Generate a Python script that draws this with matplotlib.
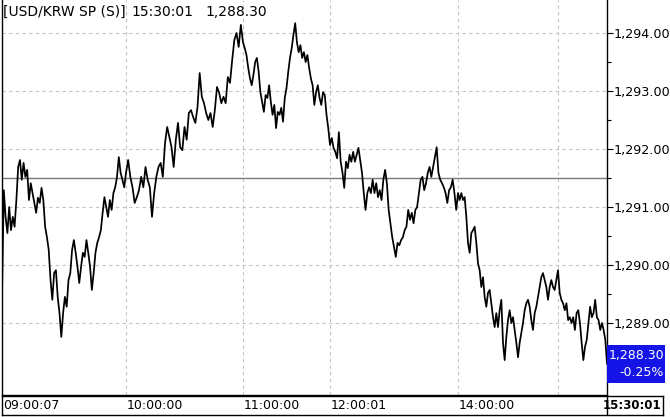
import numpy as np
import matplotlib
matplotlib.use("Agg")
import matplotlib.pyplot as plt
from matplotlib.patches import Rectangle
from matplotlib.transforms import blended_transform_factory

W, H, DPI = 670, 417, 100

# USD/KRW spot ticks
p_0900 = [1289.45, 1291.29, 1290.83, 1290.55, 1291.00, 1290.60, 1290.83, 1290.66, 1291.12, 1291.69,
          1291.81, 1291.47, 1291.76, 1291.52, 1291.64, 1291.12, 1291.41, 1291.24, 1291.07, 1290.90,
          1291.16, 1291.07, 1291.33, 1291.12, 1290.66, 1290.48, 1290.26, 1289.74, 1289.40, 1289.86,
          1289.91, 1289.45, 1289.17, 1288.76, 1289.17, 1289.45, 1289.28, 1289.74, 1289.86, 1290.26,
          1290.43, 1290.21, 1289.97, 1289.69, 1289.97, 1290.21, 1290.14, 1290.43, 1290.21, 1289.97,
          1289.57, 1289.86, 1290.21, 1290.38, 1290.48, 1290.60, 1290.90, 1291.17, 1291.00, 1290.83,
          1291.12, 1290.95, 1291.24, 1291.34, 1291.52, 1291.86, 1291.59, 1291.47, 1291.34]
p_1000 = [1291.59, 1291.81, 1291.52, 1291.34, 1291.07, 1291.17, 1291.29, 1291.52, 1291.34, 1291.69,
          1291.47, 1291.34, 1290.83, 1291.24, 1291.52, 1291.69, 1291.76, 1291.52, 1292.10, 1292.38,
          1292.21, 1292.03, 1291.69, 1292.16, 1292.45, 1292.03, 1291.98, 1292.38, 1292.16, 1292.62,
          1292.67, 1292.55, 1292.45, 1292.72, 1293.31, 1292.90, 1292.79, 1292.62, 1292.50, 1292.62,
          1292.38, 1292.67, 1293.07, 1292.97, 1292.79, 1292.90, 1292.79, 1293.24, 1293.14, 1293.53,
          1293.88, 1294.00, 1293.76, 1294.14]
p_1100 = [1293.84, 1293.74, 1293.62, 1293.40, 1293.22, 1293.10, 1293.28, 1293.50, 1293.57, 1293.33,
          1292.98, 1292.81, 1292.64, 1292.93, 1292.88, 1293.10, 1292.81, 1292.59, 1292.76, 1292.36,
          1292.64, 1292.59, 1292.71, 1292.47, 1292.88, 1293.05, 1293.33, 1293.57, 1293.74, 1293.97,
          1294.17, 1293.84, 1293.67, 1293.79, 1293.57, 1293.67, 1293.50, 1293.62, 1293.40, 1293.22,
          1293.10, 1292.76, 1292.98, 1293.10, 1292.88, 1292.76, 1292.98, 1292.93, 1292.59, 1292.36]
p_1200 = [1292.07, 1292.19, 1292.02, 1291.95, 1291.84, 1292.29, 1291.78, 1291.60, 1291.33, 1291.78,
          1291.67, 1291.90, 1291.78, 1291.95, 1291.78, 1291.90, 1292.02, 1291.81, 1291.59, 1291.24,
          1290.95, 1291.24, 1291.34, 1291.24, 1291.47, 1291.24, 1291.41, 1291.17, 1291.29, 1291.12,
          1291.47, 1291.64, 1291.41, 1290.95, 1290.72, 1290.48, 1290.31, 1290.14, 1290.38, 1290.34,
          1290.43, 1290.48, 1290.60, 1290.66, 1290.95, 1290.78, 1290.90, 1290.72, 1290.95, 1291.00,
          1291.24, 1291.47, 1291.52, 1291.29, 1291.41, 1291.59, 1291.69, 1291.52, 1291.69, 1291.86,
          1292.03, 1291.59, 1291.47, 1291.41, 1291.34, 1291.24, 1291.07, 1291.29, 1291.34, 1291.47,
          1291.24, 1290.95]
p_1400 = [1291.24, 1291.12, 1291.24, 1291.12, 1291.17, 1290.83, 1290.38, 1290.21, 1290.55, 1290.60,
          1290.66, 1290.38, 1290.03, 1289.91, 1289.62, 1289.79, 1289.45, 1289.28, 1289.52, 1289.57,
          1289.34, 1289.10, 1288.93, 1289.17, 1288.93, 1289.22, 1289.40, 1288.66, 1288.36, 1288.76,
          1289.05, 1289.22, 1289.00, 1289.10, 1288.88, 1288.66, 1288.41, 1288.66, 1288.83, 1289.00,
          1289.22, 1289.34, 1289.40, 1289.28, 1289.05, 1288.88, 1289.17, 1289.28, 1289.45, 1289.62,
          1289.79, 1289.86, 1289.74, 1289.62, 1289.40, 1289.62, 1289.74, 1289.62, 1289.57, 1289.74]
p_1500 = [1289.91, 1289.52, 1289.40, 1289.34, 1289.22, 1289.34, 1289.05, 1289.10, 1289.00, 1289.10,
          1288.88, 1289.17, 1289.22, 1289.00, 1288.66, 1288.36, 1288.59, 1288.71, 1289.00, 1289.28,
          1289.10, 1289.17, 1289.40, 1289.10, 1289.05, 1288.88, 1289.00, 1288.88, 1288.71, 1288.30]

time_labels = ["09:00:07", "10:00:00", "11:00:00", "12:00:01", "14:00:00", ""]
last_time = "15:30:01"
title = "[USD/KRW SP (S)]"
prev_close = 1291.50
last_price = 1288.30
change_pct = -0.25
y_ticks = [1289, 1290, 1291, 1292, 1293, 1294]

# where each block starts along the x axis (pixel-like slot units)
block_edges = [0, 124, 241, 328, 456, 556, 605]

blocks = [p_0900, p_1000, p_1100, p_1200, p_1400, p_1500]
xs = []
for i, b in enumerate(blocks):
    last = i == len(blocks) - 1
    xs.append(np.linspace(block_edges[i], block_edges[i + 1], len(b), endpoint=last))
x = np.concatenate(xs)
y = np.concatenate(blocks)

fig = plt.figure(figsize=(W / DPI, H / DPI), dpi=DPI)
plt.rcParams['font.family'] = ['DejaVu Sans']

# main price panel
ax = fig.add_axes([2 / W, (H - 395) / H, 605 / W, 395 / H])
ax.set_xlim(0, 605)
ax.set_ylim(1294 - 362 / 58, 1294 + 33 / 58)

grid_kw = dict(color='#c4c4c4', lw=0.8, dashes=(3, 3))
for v in y_ticks:
    ax.axhline(v, zorder=1, **grid_kw)
for e in block_edges[1:-1]:
    ax.axvline(e, zorder=1, **grid_kw)
ax.axhline(prev_close, color='#7a7a7a', lw=1.0, zorder=2)

ax.plot(x, y, color='black', lw=1.25, zorder=3)

ax.spines['top'].set_visible(False)
for s in ['left', 'right', 'bottom']:
    ax.spines[s].set_color('black')
    ax.spines[s].set_linewidth(1.0)
ax.set_xticks([])
ax.yaxis.tick_right()
ax.set_yticks(y_ticks)
ax.set_yticklabels([f"{v:,.2f}" for v in y_ticks])
ax.set_yticks([v + 0.5 for v in y_ticks[:-1]] + [y_ticks[0] - 0.5], minor=True)
ax.tick_params(axis='y', which='major', length=4, width=0.8, pad=1, labelsize=9.2, colors='black')
ax.tick_params(axis='y', which='minor', length=3, width=0.8)

# last price box on the right scale
tr = blended_transform_factory(ax.transAxes, ax.transData)
box_h = 38 / 58
ax.add_patch(Rectangle((1.0, last_price - box_h / 2), 58 / 605, box_h, transform=tr,
                       facecolor='#1414e6', edgecolor='none', clip_on=False, zorder=5))
ax.text(1 + 57 / 605, last_price + box_h * 0.22, f"{last_price:,.2f}", transform=tr,
        ha='right', va='center', color='white', fontsize=9, zorder=6, clip_on=False)
ax.text(1 + 57 / 605, last_price - box_h * 0.24, f"{change_pct:.2f}%", transform=tr,
        ha='right', va='center', color='white', fontsize=9, zorder=6, clip_on=False)

# header text
fig.text(3 / W, 1 - 12 / H, title, fontsize=10, va='center', ha='left')
fig.text(131 / W, 1 - 12 / H, last_time, fontsize=10, va='center', ha='left')
fig.text(205 / W, 1 - 12 / H, f"{last_price:,.2f}", fontsize=10, va='center', ha='left')

# time row under the chart
rax = fig.add_axes([2 / W, (H - 415) / H, 661 / W, 19 / H])
rax.set_xlim(0, 661)
rax.set_ylim(0, 1)
rax.set_xticks([])
rax.set_yticks([])
for s in rax.spines.values():
    s.set_color('black')
    s.set_linewidth(1.0)
rax.axvline(605, color='black', lw=1.0)
for e, lab in zip(block_edges[:-1], time_labels):
    rax.text(e + 1, 0.5, lab, fontsize=9, ha='left', va='center')
rax.text(659, 0.5, last_time, fontsize=8.5, fontweight='bold', ha='right', va='center')

fig.savefig("out.png", dpi=DPI)
